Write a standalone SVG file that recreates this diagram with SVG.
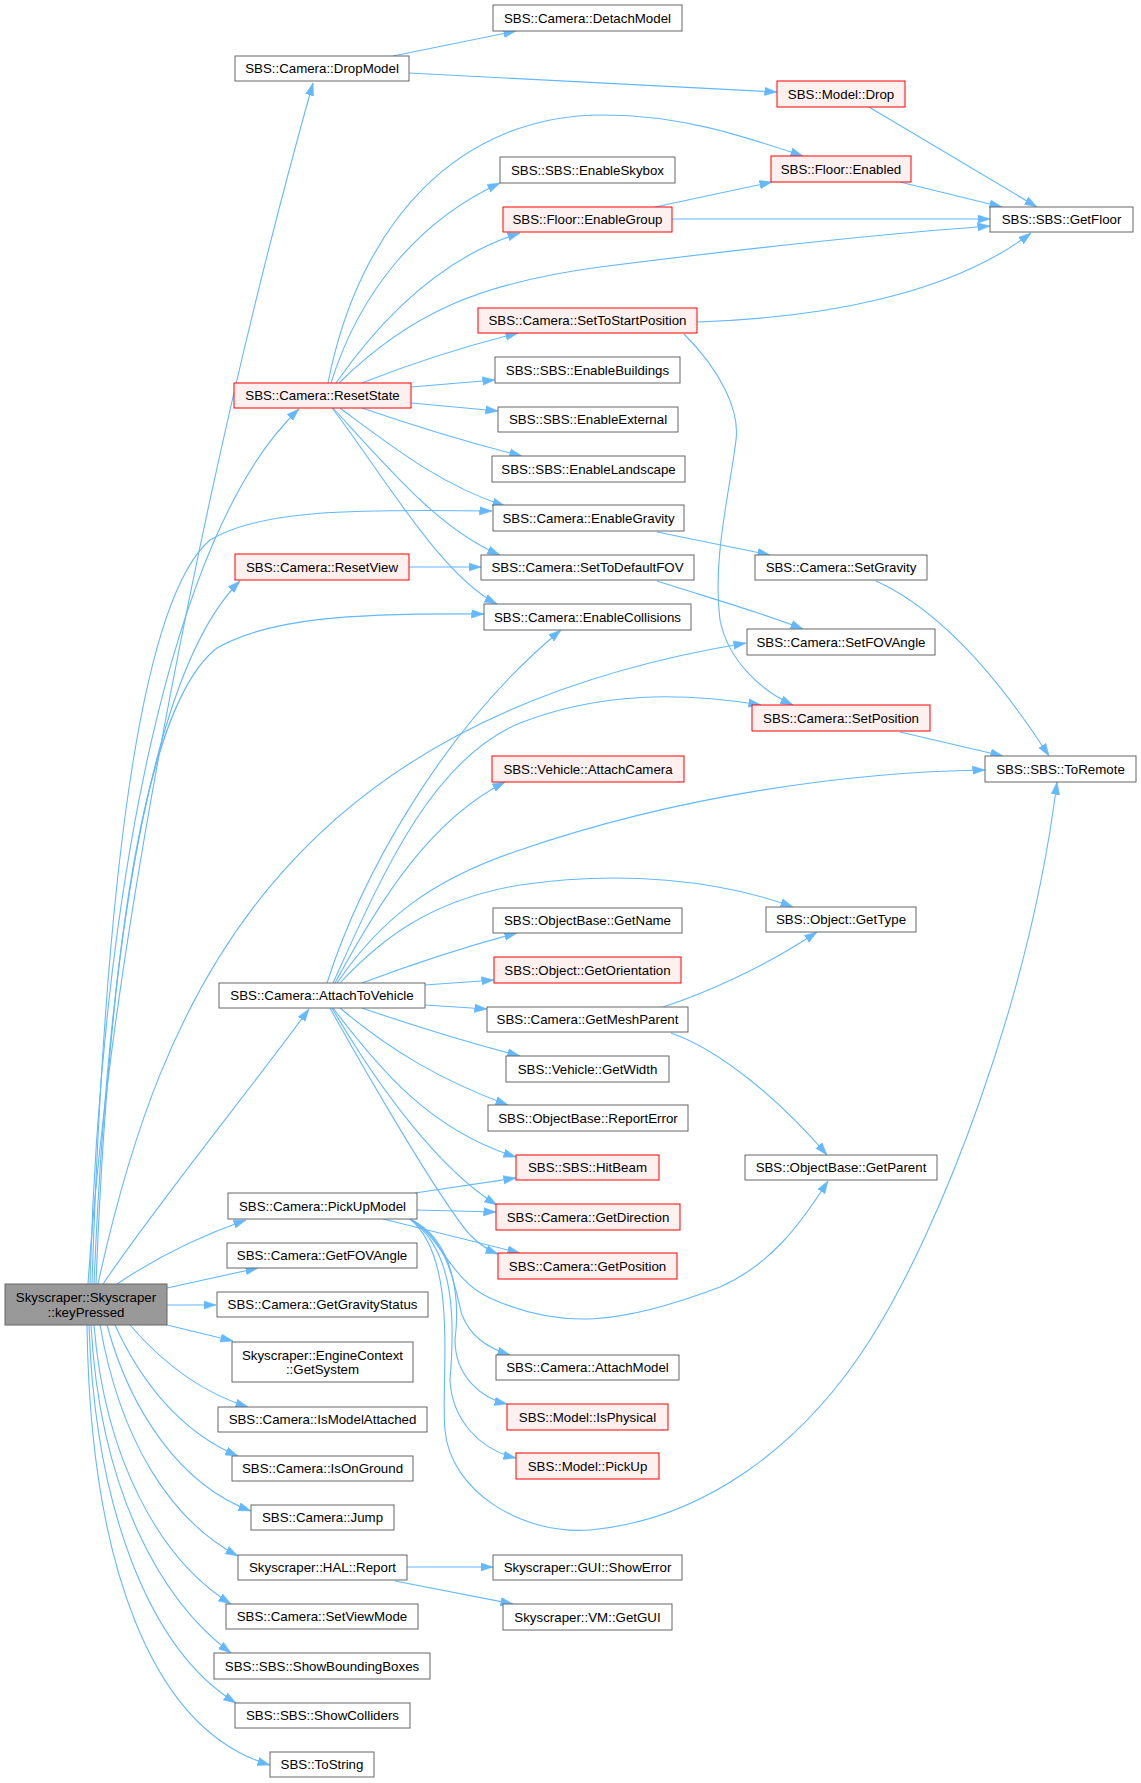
<svg xmlns="http://www.w3.org/2000/svg" width="1141" height="1783" viewBox="0 0 1141 1783">
<style>
.node rect{fill:#ffffff;stroke:#666666;stroke-width:1}
.node.red rect{fill:#fff0f0;stroke:#ff0000}
.node.root rect{fill:#999999;stroke:#666666}
.node text{font-family:"Liberation Sans",Arial,sans-serif;font-size:13.3px;fill:#000000;text-anchor:middle}
.edges path{fill:none;stroke:#63b8ff;stroke-width:1.1;marker-end:url(#ah)}
</style>
<defs>
<marker id="ah" markerUnits="userSpaceOnUse" markerWidth="13" markerHeight="10" viewBox="0 0 13 10" refX="12.5" refY="5" orient="auto">
<path d="M0,0.8 L12.5,5 L0,9.2 z" fill="#63b8ff" stroke="#63b8ff" stroke-width="0.5"/>
</marker>
</defs>
<rect x="0" y="0" width="1141" height="1783" fill="#ffffff"/>
<g class="edges" id="edges">
<path d="M88,1284 C110,950 210,450 313,83"/>
<path d="M90,1284 C100,900 170,530 299,409"/>
<path d="M92,1284 C105,880 140,600 210,540 C260,510 350,509 492,511"/>
<path d="M94,1284 C110,900 160,660 240,581"/>
<path d="M96,1284 C110,920 150,700 217,648 C270,618 350,613 484,614"/>
<path d="M98,1284 C160,1000 280,720 746,643"/>
<path d="M103,1284 C160,1200 250,1090 309,1009"/>
<path d="M117,1284 C160,1255 200,1236 246,1220"/>
<path d="M167,1288 L258,1268"/>
<path d="M167,1305 L216,1305"/>
<path d="M167,1325 L233,1341"/>
<path d="M130,1325 C160,1360 200,1392 248,1407"/>
<path d="M115,1325 C140,1380 180,1432 238,1456"/>
<path d="M107,1325 C130,1410 180,1485 251,1511"/>
<path d="M100,1325 C120,1440 170,1520 238,1556"/>
<path d="M94,1325 C105,1460 160,1560 231,1604"/>
<path d="M91,1325 C100,1490 160,1600 231,1653"/>
<path d="M89,1325 C95,1510 150,1650 236,1703"/>
<path d="M87,1325 C90,1560 150,1730 270,1765"/>
<path d="M393,56 L516,31"/>
<path d="M409,73 L777,92"/>
<path d="M869,107 L1037,207"/>
<path d="M900,182 L1002,207"/>
<path d="M655,207 L772,182"/>
<path d="M672,219 L990,219"/>
<path d="M339,383 C410,313 480,283 600,267 C750,248 880,234 990,226"/>
<path d="M328,383 C360,220 460,115 603,115 C680,115 740,135 803,156"/>
<path d="M331,383 C360,290 420,220 500,183"/>
<path d="M336,383 C380,320 440,258 520,233"/>
<path d="M362,383 C420,360 470,345 518,333"/>
<path d="M411,387 L495,380"/>
<path d="M411,403 L498,411"/>
<path d="M362,408 C420,428 470,443 522,456"/>
<path d="M340,408 C390,445 440,485 505,506"/>
<path d="M333,408 C390,470 440,530 500,555"/>
<path d="M332,408 C380,470 440,575 497,604"/>
<path d="M409,567 L481,567"/>
<path d="M657,532 L770,555"/>
<path d="M657,581 C700,595 760,612 803,629"/>
<path d="M697,322 C820,318 950,295 1031,233"/>
<path d="M684,334 C720,370 740,410 736,440 C730,490 712,560 720,620 C728,660 760,690 793,705"/>
<path d="M876,581 C940,610 1000,680 1049,756"/>
<path d="M900,732 L1003,756"/>
<path d="M663,1007 C700,995 760,970 817,932"/>
<path d="M671,1033 C720,1050 780,1100 827,1155"/>
<path d="M407,1567 L493,1567"/>
<path d="M395,1581 L513,1604"/>
<path d="M327,983 C360,880 440,730 561,630"/>
<path d="M333,983 C380,880 430,760 520,723 C600,692 680,692 761,705"/>
<path d="M335,983 C380,900 430,820 505,782"/>
<path d="M337,983 C380,920 430,880 520,850 C680,795 850,772 985,770"/>
<path d="M340,983 C380,940 430,900 520,885 C620,870 720,880 793,907"/>
<path d="M362,983 C410,965 460,948 517,933"/>
<path d="M425,985 L494,980"/>
<path d="M425,1005 L487,1009"/>
<path d="M362,1008 C420,1028 470,1043 520,1056"/>
<path d="M340,1008 C390,1050 440,1080 508,1105"/>
<path d="M333,1008 C380,1070 430,1130 516,1157"/>
<path d="M332,1008 C380,1090 440,1170 497,1205"/>
<path d="M330,1008 C370,1080 440,1200 470,1235 C480,1245 488,1250 498,1254"/>
<path d="M415,1193 L516,1178"/>
<path d="M417,1210 L496,1212"/>
<path d="M383,1219 L520,1253"/>
<path d="M410,1219 C440,1235 450,1280 490,1298 C560,1330 620,1325 720,1287 C770,1265 800,1225 828,1181"/>
<path d="M410,1219 C450,1240 455,1290 462,1315 C470,1335 485,1347 510,1355"/>
<path d="M410,1219 C455,1240 460,1300 455,1340 C455,1375 480,1398 507,1404"/>
<path d="M410,1219 C455,1250 455,1320 450,1380 C452,1420 480,1450 516,1458"/>
<path d="M410,1219 C460,1260 440,1380 445,1430 C450,1490 520,1535 590,1530 C700,1520 800,1450 870,1340 C940,1230 1030,1000 1057,782"/>
</g>
<g id="nodes">
<g id="n_keyPressed" class="node root"><rect x="5" y="1284" width="162" height="41"/><text x="86" y="1301.7">Skyscraper::Skyscraper</text><text x="86" y="1316.7">::keyPressed</text></g>
<g id="n_DropModel" class="node"><rect x="235" y="56" width="174" height="25"/><text x="322" y="73.2">SBS::Camera::DropModel</text></g>
<g id="n_ResetState" class="node red"><rect x="234" y="383" width="177" height="25"/><text x="322.5" y="400.2">SBS::Camera::ResetState</text></g>
<g id="n_ResetView" class="node red"><rect x="235" y="554" width="174" height="26"/><text x="322" y="571.7">SBS::Camera::ResetView</text></g>
<g id="n_AttachToVehicle" class="node"><rect x="219" y="983" width="206" height="25"/><text x="322" y="1000.2">SBS::Camera::AttachToVehicle</text></g>
<g id="n_PickUpModel" class="node"><rect x="228" y="1193" width="189" height="26"/><text x="322.5" y="1210.7">SBS::Camera::PickUpModel</text></g>
<g id="n_GetFOVAngle" class="node"><rect x="227" y="1243" width="190" height="25"/><text x="322" y="1260.2">SBS::Camera::GetFOVAngle</text></g>
<g id="n_GetGravityStatus" class="node"><rect x="217" y="1292" width="211" height="25"/><text x="322.5" y="1309.2">SBS::Camera::GetGravityStatus</text></g>
<g id="n_GetSystem" class="node"><rect x="232" y="1342" width="181" height="40"/><text x="322.5" y="1359.7">Skyscraper::EngineContext</text><text x="322.5" y="1373.7">::GetSystem</text></g>
<g id="n_IsModelAttached" class="node"><rect x="218" y="1407" width="209" height="25"/><text x="322.5" y="1424.2">SBS::Camera::IsModelAttached</text></g>
<g id="n_IsOnGround" class="node"><rect x="232" y="1456" width="181" height="25"/><text x="322.5" y="1473.2">SBS::Camera::IsOnGround</text></g>
<g id="n_Jump" class="node"><rect x="251" y="1505" width="143" height="25"/><text x="322.5" y="1522.2">SBS::Camera::Jump</text></g>
<g id="n_Report" class="node"><rect x="238" y="1555" width="169" height="25"/><text x="322.5" y="1572.2">Skyscraper::HAL::Report</text></g>
<g id="n_SetViewMode" class="node"><rect x="226" y="1604" width="192" height="25"/><text x="322" y="1621.2">SBS::Camera::SetViewMode</text></g>
<g id="n_ShowBoundingBoxes" class="node"><rect x="214" y="1653" width="216" height="26"/><text x="322" y="1670.7">SBS::SBS::ShowBoundingBoxes</text></g>
<g id="n_ShowColliders" class="node"><rect x="235" y="1703" width="175" height="25"/><text x="322.5" y="1720.2">SBS::SBS::ShowColliders</text></g>
<g id="n_ToString" class="node"><rect x="270" y="1752" width="104" height="25"/><text x="322" y="1769.2">SBS::ToString</text></g>
<g id="n_DetachModel" class="node"><rect x="493" y="5" width="189" height="26"/><text x="587.5" y="22.7">SBS::Camera::DetachModel</text></g>
<g id="n_EnableSkybox" class="node"><rect x="500" y="157" width="175" height="26"/><text x="587.5" y="174.7">SBS::SBS::EnableSkybox</text></g>
<g id="n_EnableGroup" class="node red"><rect x="503" y="207" width="169" height="25"/><text x="587.5" y="224.2">SBS::Floor::EnableGroup</text></g>
<g id="n_SetToStartPosition" class="node red"><rect x="478" y="308" width="219" height="25"/><text x="587.5" y="325.2">SBS::Camera::SetToStartPosition</text></g>
<g id="n_EnableBuildings" class="node"><rect x="495" y="357" width="185" height="26"/><text x="587.5" y="374.7">SBS::SBS::EnableBuildings</text></g>
<g id="n_EnableExternal" class="node"><rect x="498" y="407" width="180" height="25"/><text x="588" y="424.2">SBS::SBS::EnableExternal</text></g>
<g id="n_EnableLandscape" class="node"><rect x="492" y="456" width="193" height="26"/><text x="588.5" y="473.7">SBS::SBS::EnableLandscape</text></g>
<g id="n_EnableGravity" class="node"><rect x="493" y="505" width="191" height="26"/><text x="588.5" y="522.7">SBS::Camera::EnableGravity</text></g>
<g id="n_SetToDefaultFOV" class="node"><rect x="481" y="555" width="213" height="25"/><text x="587.5" y="572.2">SBS::Camera::SetToDefaultFOV</text></g>
<g id="n_EnableCollisions" class="node"><rect x="484" y="604" width="207" height="26"/><text x="587.5" y="621.7">SBS::Camera::EnableCollisions</text></g>
<g id="n_AttachCamera" class="node red"><rect x="492" y="756" width="192" height="26"/><text x="588" y="773.7">SBS::Vehicle::AttachCamera</text></g>
<g id="n_GetName" class="node"><rect x="493" y="908" width="189" height="25"/><text x="587.5" y="925.2">SBS::ObjectBase::GetName</text></g>
<g id="n_GetOrientation" class="node red"><rect x="494" y="957" width="187" height="26"/><text x="587.5" y="974.7">SBS::Object::GetOrientation</text></g>
<g id="n_GetMeshParent" class="node"><rect x="487" y="1007" width="201" height="25"/><text x="587.5" y="1024.2">SBS::Camera::GetMeshParent</text></g>
<g id="n_GetWidth" class="node"><rect x="506" y="1056" width="163" height="26"/><text x="587.5" y="1073.7">SBS::Vehicle::GetWidth</text></g>
<g id="n_ReportError" class="node"><rect x="488" y="1105" width="200" height="26"/><text x="588" y="1122.7">SBS::ObjectBase::ReportError</text></g>
<g id="n_HitBeam" class="node red"><rect x="516" y="1155" width="143" height="25"/><text x="587.5" y="1172.2">SBS::SBS::HitBeam</text></g>
<g id="n_GetDirection" class="node red"><rect x="496" y="1204" width="184" height="26"/><text x="588" y="1221.7">SBS::Camera::GetDirection</text></g>
<g id="n_GetPosition" class="node red"><rect x="498" y="1253" width="179" height="26"/><text x="587.5" y="1270.7">SBS::Camera::GetPosition</text></g>
<g id="n_AttachModel" class="node"><rect x="496" y="1355" width="183" height="25"/><text x="587.5" y="1372.2">SBS::Camera::AttachModel</text></g>
<g id="n_IsPhysical" class="node red"><rect x="507" y="1404" width="161" height="26"/><text x="587.5" y="1421.7">SBS::Model::IsPhysical</text></g>
<g id="n_PickUp" class="node red"><rect x="516" y="1453" width="143" height="26"/><text x="587.5" y="1470.7">SBS::Model::PickUp</text></g>
<g id="n_ShowError" class="node"><rect x="493" y="1555" width="189" height="25"/><text x="587.5" y="1572.2">Skyscraper::GUI::ShowError</text></g>
<g id="n_GetGUI" class="node"><rect x="503" y="1604" width="169" height="26"/><text x="587.5" y="1621.7">Skyscraper::VM::GetGUI</text></g>
<g id="n_ModelDrop" class="node red"><rect x="777" y="81" width="128" height="26"/><text x="841" y="98.7">SBS::Model::Drop</text></g>
<g id="n_FloorEnabled" class="node red"><rect x="771" y="156" width="140" height="26"/><text x="841" y="173.7">SBS::Floor::Enabled</text></g>
<g id="n_SetGravity" class="node"><rect x="755" y="555" width="172" height="25"/><text x="841" y="572.2">SBS::Camera::SetGravity</text></g>
<g id="n_SetFOVAngle" class="node"><rect x="747" y="629" width="188" height="26"/><text x="841" y="646.7">SBS::Camera::SetFOVAngle</text></g>
<g id="n_SetPosition" class="node red"><rect x="752" y="705" width="178" height="26"/><text x="841" y="722.7">SBS::Camera::SetPosition</text></g>
<g id="n_GetType" class="node"><rect x="766" y="907" width="150" height="25"/><text x="841" y="924.2">SBS::Object::GetType</text></g>
<g id="n_GetParent" class="node"><rect x="745" y="1155" width="192" height="25"/><text x="841" y="1172.2">SBS::ObjectBase::GetParent</text></g>
<g id="n_GetFloor" class="node"><rect x="990" y="207" width="143" height="25"/><text x="1061.5" y="224.2">SBS::SBS::GetFloor</text></g>
<g id="n_ToRemote" class="node"><rect x="985" y="756" width="151" height="26"/><text x="1060.5" y="773.7">SBS::SBS::ToRemote</text></g>
</g>
</svg>
